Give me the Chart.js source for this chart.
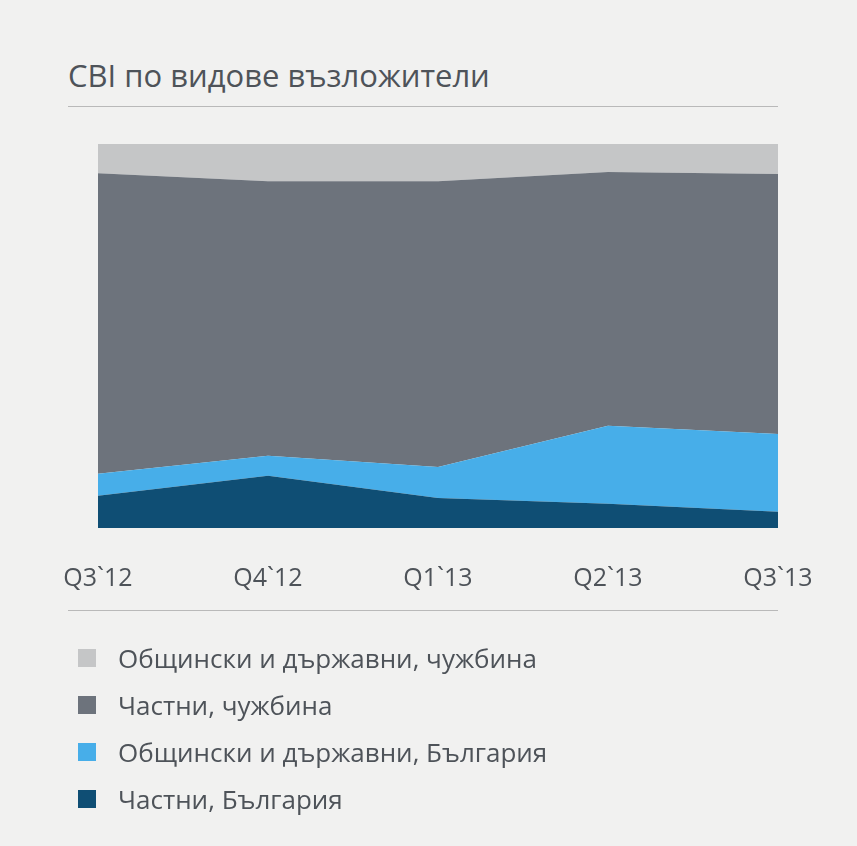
<!DOCTYPE html>
<html lang="bg">
<head>
<meta charset="UTF-8">
<title>CBI по видове възложители</title>
<style>
  body { margin: 0; background: #f1f1f0; font-family: "Open Sans", sans-serif; color: #4e5359; }
  #page { position: relative; width: 857px; height: 846px; overflow: hidden; }
  #title { position: absolute; left: 68px; top: 54px; font-size: 31px; color: #4e5359; white-space: nowrap; }
  .rule { position: absolute; left: 68px; width: 710px; height: 1px; background: #b9b9b9; }
  #chartBox { position: absolute; left: 0; top: 0; width: 857px; height: 637px; }
  #legend { position: absolute; left: 78px; top: 634px; }
  .item { height: 47px; display: flex; align-items: center; font-size: 26px; }
  .sw { width: 18px; height: 18px; margin-right: 22px; flex: none; }
</style>
</head>
<body>
<div id="page">
  <div id="title">CBI по видове възложители</div>
  <div class="rule" style="top:106px"></div>
  <div id="chartBox"><canvas id="myChart"></canvas></div>
  <div class="rule" style="top:610px"></div>
  <div id="legend"></div>
</div>

<script src="https://cdn.jsdelivr.net/npm/chart.js"></script>
<script>
  // тримесечия
  const quarters = ["Q3`12", "Q4`12", "Q1`13", "Q2`13", "Q3`13"];

  // дялове в % (стекнати до 100)
  const privateBg = [8.4, 13.6, 7.8, 6.3, 4.2];
  const publicBg = [5.7, 5.2, 8.1, 20.3, 20.3];
  const privateAbroad = [78.3, 71.5, 74.4, 66.1, 67.7];
  const publicAbroad = [7.6, 9.7, 9.7, 7.3, 7.8];

  const names = [
    "Общински и държавни, чужбина",
    "Частни, чужбина",
    "Общински и държавни, България",
    "Частни, България"
  ];
  const colors = ["#c5c6c7", "#6d737c", "#47aee9", "#0f4e74"];

  // легенда
  const legendEl = document.getElementById("legend");
  for (let i = 0; i < names.length; i++) {
    let row = document.createElement("div");
    row.className = "item";
    row.innerHTML = '<span class="sw" style="background:' + colors[i] + '"></span>' + names[i];
    legendEl.appendChild(row);
  }

  const ctx = document.getElementById("myChart");
  new Chart(ctx, {
    type: 'line',
    data: {
      labels: quarters,
      datasets: [
        { label: names[3], data: privateBg, backgroundColor: colors[3], fill: 'origin' },
        { label: names[2], data: publicBg, backgroundColor: colors[2], fill: '-1' },
        { label: names[1], data: privateAbroad, backgroundColor: colors[1], fill: '-1' },
        { label: names[0], data: publicAbroad, backgroundColor: colors[0], fill: '-1' }
      ]
    },
    options: {
      responsive: true,
      maintainAspectRatio: false,
      animation: false,
      layout: { padding: { left: 98, right: 79, top: 144, bottom: 15 } },
      elements: {
        line: { tension: 0, borderWidth: 0 },
        point: { radius: 0 }
      },
      plugins: { legend: { display: false }, tooltip: { enabled: false } },
      scales: {
        x: {
          offset: false,
          grid: { display: false },
          border: { display: false },
          ticks: {
            color: '#4e5359',
            padding: 28,
            maxRotation: 0,
            autoSkip: false,
            font: { family: 'Open Sans', size: 25 }
          }
        },
        y: {
          display: false,
          stacked: true,
          min: 0,
          max: 100
        }
      }
    }
  });
</script>
</body>
</html>
